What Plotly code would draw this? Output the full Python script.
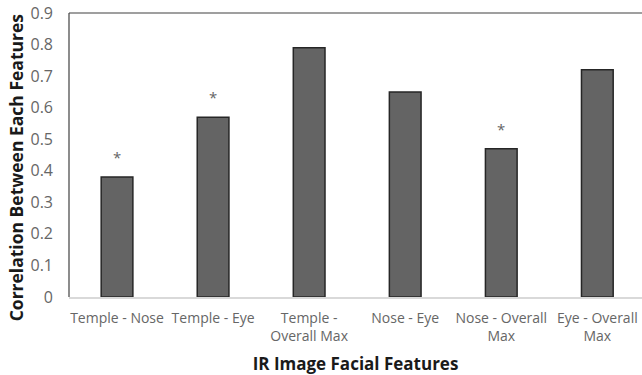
import plotly.graph_objects as go

# Pairwise correlations between facial regions in IR images
categories = ["Temple - Nose", "Temple - Eye", "Temple -<br>Overall Max",
              "Nose - Eye", "Nose - Overall<br>Max", "Eye - Overall<br>Max"]
correlations = [0.38, 0.57, 0.79, 0.65, 0.47, 0.72]
significant = [True, True, False, False, True, False]
y_ticks = [0, 0.1, 0.2, 0.3, 0.4, 0.5, 0.6, 0.7, 0.8, 0.9]

FONT = "Open Sans"
TICK_GREY = "#666666"

fig = go.Figure()
fig.add_trace(go.Bar(
    x=list(range(len(categories))),
    y=correlations,
    width=0.33,
    marker=dict(color="#646464", line=dict(color="#262626", width=1.5)),
    hoverinfo="skip",
))

# significance markers above the bars
for i, (v, sig) in enumerate(zip(correlations, significant)):
    if sig:
        fig.add_annotation(x=i, y=v, text="*", showarrow=False,
                           yanchor="bottom", yshift=8,
                           font=dict(family=FONT, size=15, color=TICK_GREY))

# vertical axis title
fig.add_annotation(xref="paper", yref="paper", x=-0.091, y=0.456,
                   xanchor="center", yanchor="middle", textangle=-90,
                   text="Correlation Between Each Features", showarrow=False,
                   font=dict(family=FONT, size=17.5, color="#1a1a1a", weight="bold"))

# frame lines along the left and top of the plotting area
fig.add_shape(type="line", xref="paper", yref="paper", x0=0, x1=0, y0=0, y1=1,
              line=dict(color="#404040", width=1.2))
fig.add_shape(type="line", xref="paper", yref="paper", x0=0, x1=1, y0=1, y1=1,
              line=dict(color="#404040", width=1.2))

fig.update_layout(
    width=642, height=375,
    margin=dict(l=69, r=0, t=13, b=78),
    plot_bgcolor="white", paper_bgcolor="white",
    showlegend=False,
    font=dict(family=FONT),
    xaxis=dict(
        range=[-0.5, 5.465],
        tickmode="array",
        tickvals=list(range(len(categories))),
        ticktext=categories,
        tickfont=dict(family=FONT, size=14, color=TICK_GREY),
        showgrid=False, zeroline=False,
        showline=True, linecolor="#d9d9d9", linewidth=2,
        ticks="", ticklabelstandoff=7,
        title=dict(text="IR Image Facial Features",
                   font=dict(family=FONT, size=17, color="#1a1a1a", weight="bold"),
                   standoff=18),
    ),
    yaxis=dict(
        range=[0, 0.9],
        tickmode="array",
        tickvals=y_ticks,
        ticktext=[("%g" % t) for t in y_ticks],
        tickfont=dict(family=FONT, size=16, color=TICK_GREY),
        showgrid=False, zeroline=False, showline=False,
        ticks="", ticklabelstandoff=15,
    ),
)

fig.write_html("out.html")
